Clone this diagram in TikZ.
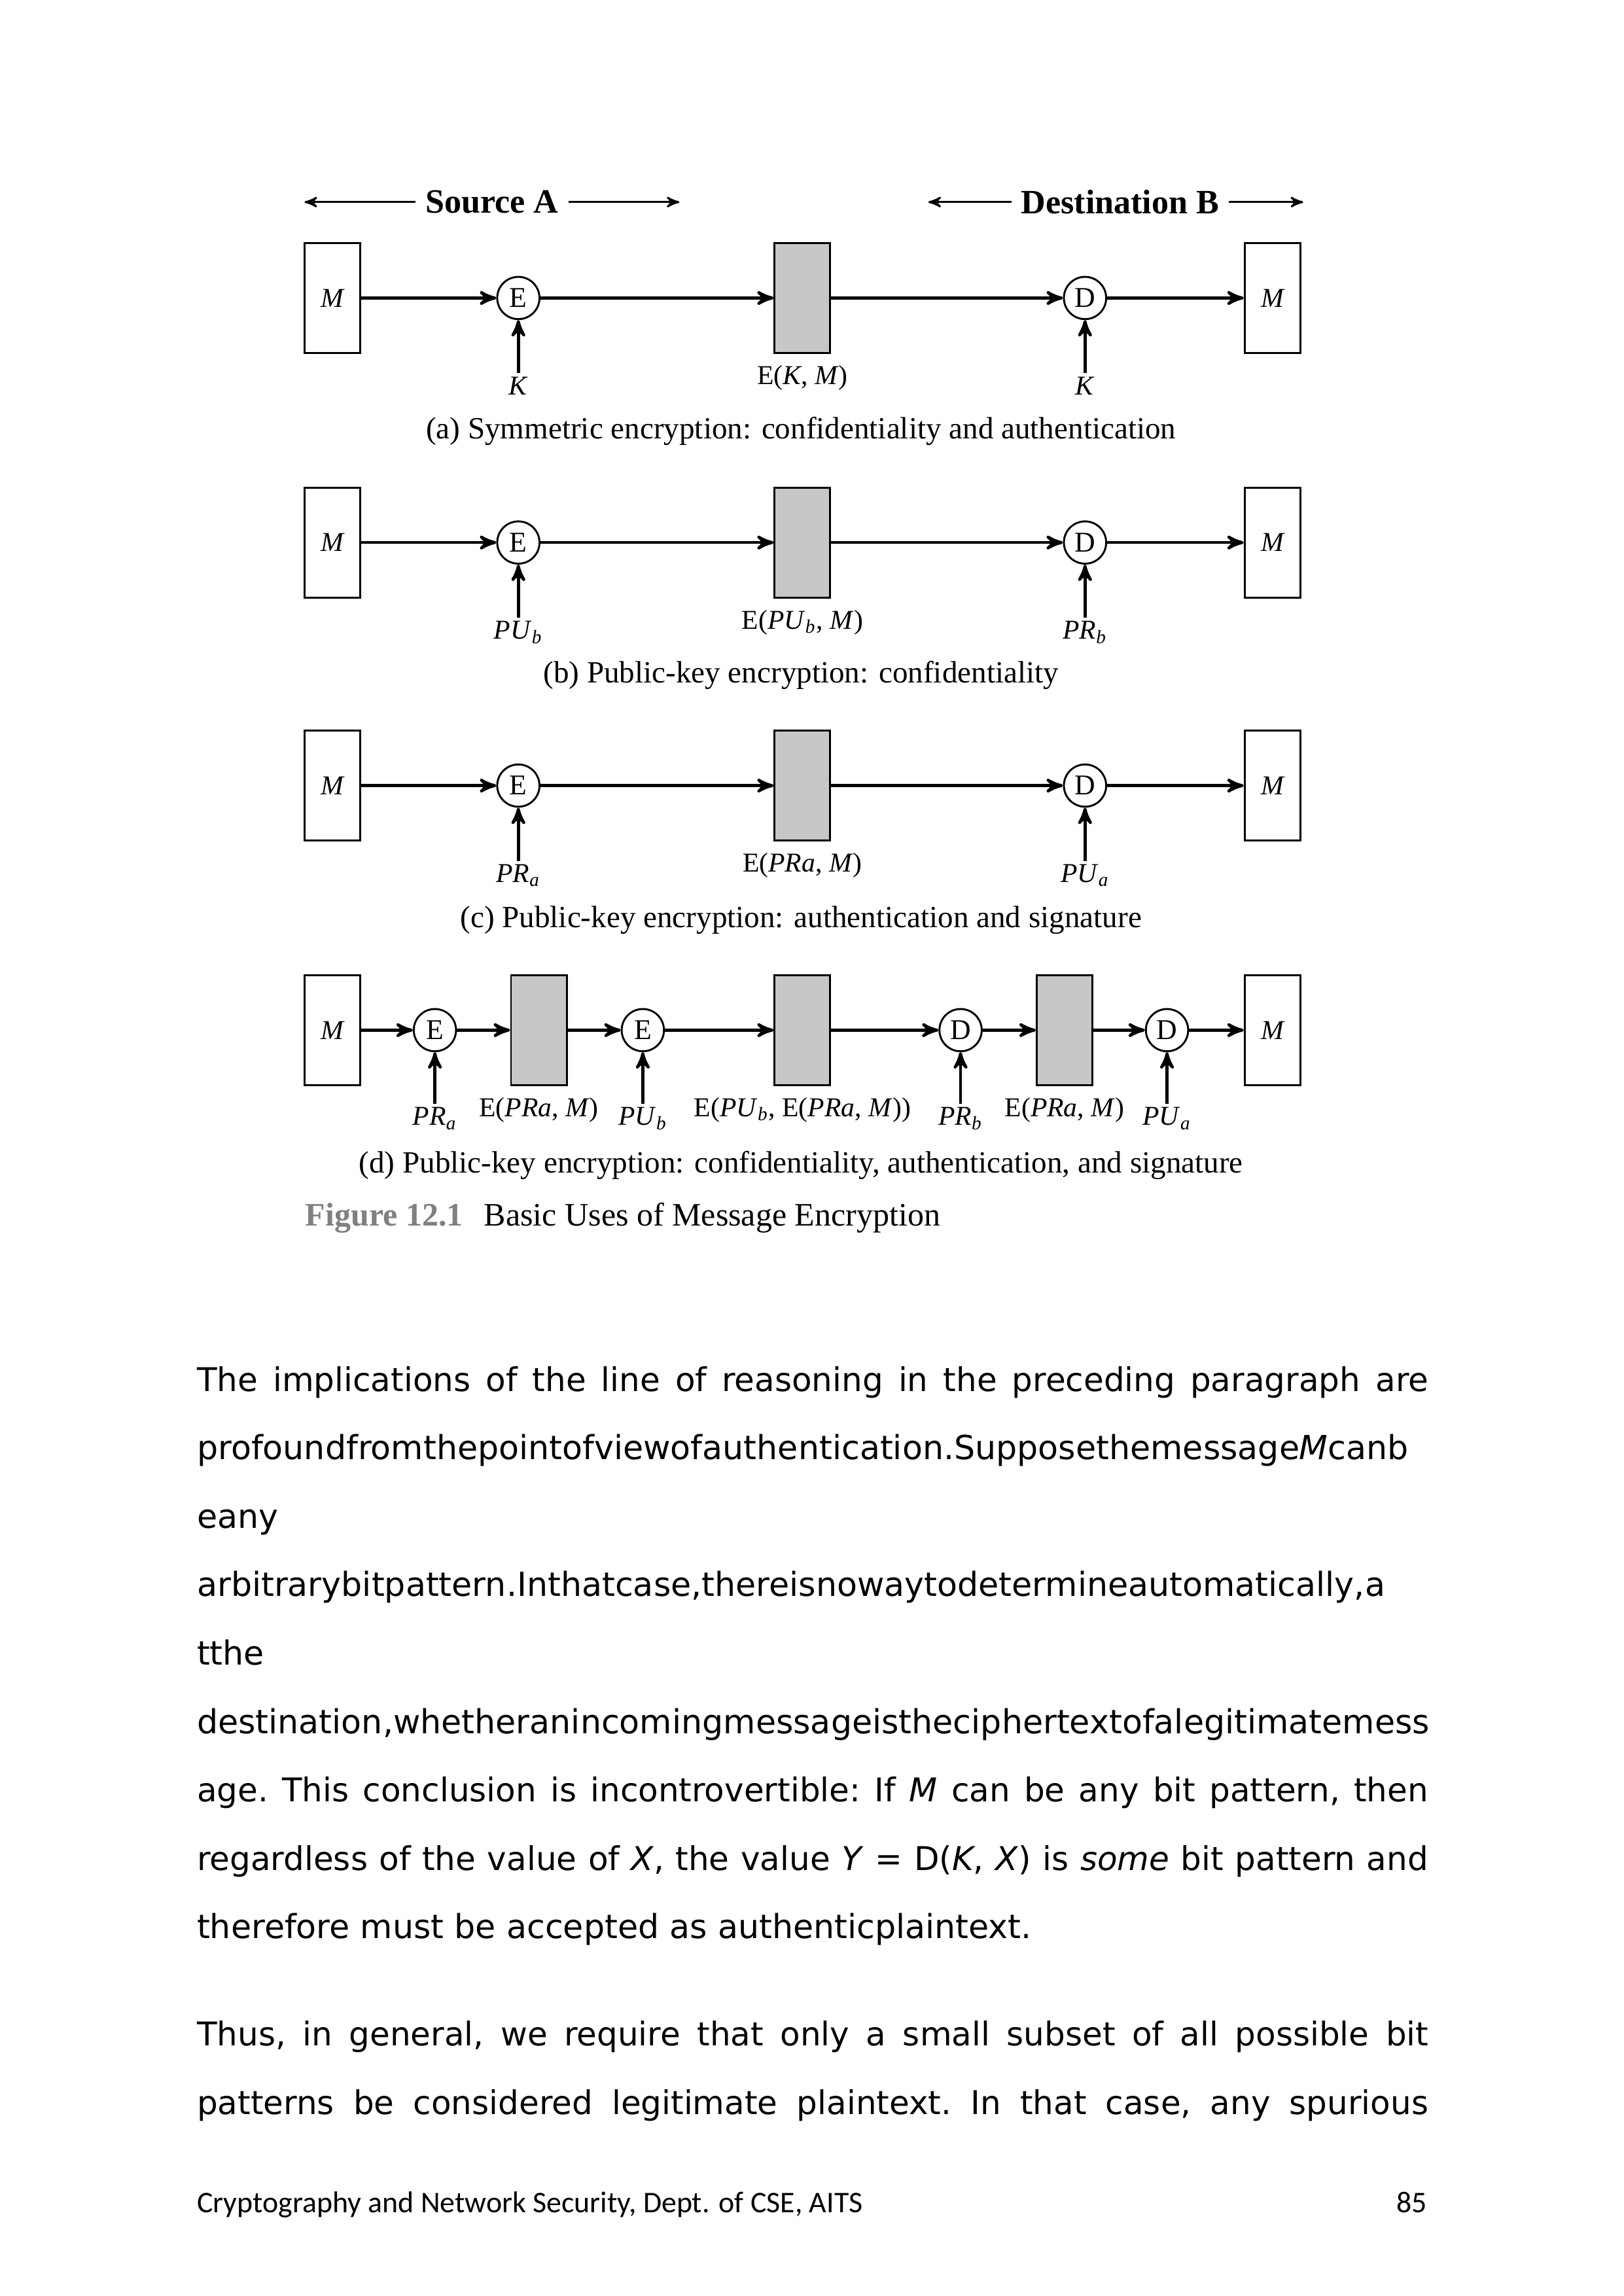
\documentclass[tikz,border=0pt]{standalone}
\usepackage{fontspec}
\setmainfont{Liberation Serif}
\newfontfamily\bodyfont{DejaVu Sans}
\newfontfamily\footfont{Carlito}
\usetikzlibrary{arrows,positioning}

\newcommand{\ky}[2]{\textit{#1}\textsubscript{\textit{#2}}}
\newcommand{\jline}[1]{\makebox[451.4pt][s]{#1}}

\begin{document}
\begin{tikzpicture}[x=0.53677pt,y=-0.53677pt,>=stealth',semithick]
    \tikzstyle{msgbox}=[draw,fill=white,line width=0.7pt,minimum width=20.4pt,minimum height=40.3pt,inner sep=0pt,font=\fontsize{10}{12}\selectfont\itshape]
    \tikzstyle{cipher}=[msgbox,fill=black!22]
    \tikzstyle{op}=[circle,draw,fill=white,line width=0.7pt,minimum size=15.5pt,inner sep=0pt,font=\fontsize{10.5}{12}\selectfont]
    \tikzstyle{lbl}=[anchor=base,inner sep=1pt,font=\fontsize{10}{12}\selectfont]
    \tikzstyle{subcap}=[anchor=base,inner sep=0pt,font=\fontsize{11.3}{13}\selectfont]
    \tikzstyle{flow}=[->,line width=1.1pt]
    \tikzstyle{hdr}=[->,line width=0.7pt]
    \tikzstyle{body}=[anchor=base west,inner sep=0pt,font=\bodyfont\fontsize{12}{14}\selectfont\frenchspacing]
    \tikzstyle{bodywide}=[body,font=\bodyfont\fontsize{12.15}{14}\selectfont\frenchspacing]

    \useasboundingbox (0,0) rectangle (1109,1568);
    \fill[white] (0,0) rectangle (1109,1568);

    % header
    \node[font=\fontsize{12.5}{14}\selectfont\bfseries] (srcA) at (336,138) {Source A};
    \node[font=\fontsize{12.5}{14}\selectfont\bfseries] (dstB) at (765,138) {Destination B};
    \coordinate (srcL) at (208,138);
    \coordinate (srcR) at (464,138);
    \coordinate (dstL) at (634,138);
    \coordinate (dstR) at (890,138);
    \draw[hdr] (srcA) -- (srcL);
    \draw[hdr] (srcA) -- (srcR);
    \draw[hdr] (dstB) -- (dstL);
    \draw[hdr] (dstB) -- (dstR);

    % (a) symmetric
    \node[msgbox] (Mina)  at (227,203.5) {M};
    \node[op]     (Ea)    at (354,203.5) {E};
    \node[cipher] (Ca)    at (548,203.5) {};
    \node[op]     (Da)    at (741,203.5) {D};
    \node[msgbox] (Mouta) at (869,203.5) {M};
    \node[lbl] (kEa) at (354,269.5) {\textit{K}};
    \node[lbl] (kDa) at (741,269.5) {\textit{K}};
    \node[lbl] (cta) at (548,262.5) {E(\textit{K}, \textit{M})};
    \node[subcap] (capa) at (547,299.5) {(a) Symmetric encryption: confidentiality and authentication};
    \path[flow]
    (Mina) edge (Ea)
    (Ea) edge (Ca)
    (Ca) edge (Da)
    (Da) edge (Mouta)
    (kEa) edge (Ea)
    (kDa) edge (Da);

    % (b) public-key, confidentiality
    \node[msgbox] (Minb)  at (227,370.5) {M};
    \node[op]     (Eb)    at (354,370.5) {E};
    \node[cipher] (Cb)    at (548,370.5) {};
    \node[op]     (Db)    at (741,370.5) {D};
    \node[msgbox] (Moutb) at (869,370.5) {M};
    \node[lbl] (kEb) at (354,436.5) {\ky{PU}{b}};
    \node[lbl] (kDb) at (741,436.5) {\ky{PR}{b}};
    \node[lbl] (ctb) at (548,429.5) {E(\ky{PU}{b}, \textit{M})};
    \node[subcap] (capb) at (547,466.5) {(b) Public-key encryption: confidentiality};
    \path[flow]
    (Minb) edge (Eb)
    (Eb) edge (Cb)
    (Cb) edge (Db)
    (Db) edge (Moutb)
    (kEb) edge (Eb)
    (kDb) edge (Db);

    % (c) public-key, authentication
    \node[msgbox] (Minc)  at (227,536.5) {M};
    \node[op]     (Ec)    at (354,536.5) {E};
    \node[cipher] (Cc)    at (548,536.5) {};
    \node[op]     (Dc)    at (741,536.5) {D};
    \node[msgbox] (Moutc) at (869,536.5) {M};
    \node[lbl] (kEc) at (354,602.5) {\ky{PR}{a}};
    \node[lbl] (kDc) at (741,602.5) {\ky{PU}{a}};
    \node[lbl] (ctc) at (548,595.5) {E(\textit{PRa}, \textit{M})};
    \node[subcap] (capc) at (547,633.5) {(c) Public-key encryption: authentication and signature};
    \path[flow]
    (Minc) edge (Ec)
    (Ec) edge (Cc)
    (Cc) edge (Dc)
    (Dc) edge (Moutc)
    (kEc) edge (Ec)
    (kDc) edge (Dc);

    % (d) both
    \node[msgbox] (Mind)  at (227,703.5) {M};
    \node[op]     (Ed1)   at (297,703.5) {E};
    \node[cipher] (Cd1)   at (368,703.5) {};
    \node[op]     (Ed2)   at (439,703.5) {E};
    \node[cipher] (Cd2)   at (548,703.5) {};
    \node[op]     (Dd1)   at (656,703.5) {D};
    \node[cipher] (Cd3)   at (727,703.5) {};
    \node[op]     (Dd2)   at (797,703.5) {D};
    \node[msgbox] (Moutd) at (869,703.5) {M};
    \node[lbl] (kEd1) at (297,768.5) {\ky{PR}{a}};
    \node[lbl] (kEd2) at (439,768.5) {\ky{PU}{b}};
    \node[lbl] (kDd1) at (656,768.5) {\ky{PR}{b}};
    \node[lbl] (kDd2) at (797,768.5) {\ky{PU}{a}};
    \node[lbl] (ctd1) at (368,762.5) {E(\textit{PRa}, \textit{M})};
    \node[lbl] (ctd2) at (548,762.5) {E(\ky{PU}{b}, E(\textit{PRa}, \textit{M}))};
    \node[lbl] (ctd3) at (727,762.5) {E(\textit{PRa}, \textit{M})};
    \node[subcap] (capd) at (547,801) {(d) Public-key encryption: confidentiality, authentication, and signature};
    \path[flow]
    (Mind) edge (Ed1)
    (Ed1) edge (Cd1)
    (Cd1) edge (Ed2)
    (Ed2) edge (Cd2)
    (Cd2) edge (Dd1)
    (Dd1) edge (Cd3)
    (Cd3) edge (Dd2)
    (Dd2) edge (Moutd)
    (kEd1) edge (Ed1)
    (kEd2) edge (Ed2)
    (kDd1) edge (Dd1)
    (kDd2) edge (Dd2);

    % figure caption
    \node[anchor=base west,inner sep=0pt,text=black!50,font=\fontsize{12}{14}\selectfont\bfseries] (fignum) at (208,837) {Figure 12.1};
    \node[anchor=base west,inner sep=0pt,font=\fontsize{12}{14}\selectfont] (figttl) at (330,837) {Basic Uses of Message Encryption};

    % running text
    \node[body]     (ln1)  at (134,950)    {\jline{The implications of the line of reasoning in the preceding paragraph are}};
    \node[bodywide] (ln2)  at (134,996.75) {profoundfromthepointofviewofauthentication.Supposethemessage\textit{M}canb};
    \node[bodywide] (ln3)  at (134,1043.5) {eany};
    \node[bodywide] (ln4)  at (134,1090.25){arbitrarybitpattern.Inthatcase,thereisnowaytodetermineautomatically,a};
    \node[bodywide] (ln5)  at (134,1137)   {tthe};
    \node[bodywide] (ln6)  at (134,1183.75){destination,whetheranincomingmessageistheciphertextofalegitimatemess};
    \node[body]     (ln7)  at (134,1230.5) {\jline{age. This conclusion is incontrovertible: If \textit{M} can be any bit pattern, then}};
    \node[body]     (ln8)  at (134,1277.25){\jline{regardless of the value of \textit{X}, the value \textit{Y} = D(\textit{K}, \textit{X}) is \textit{some} bit pattern and}};
    \node[bodywide] (ln9)  at (134,1324)   {therefore must be accepted as authenticplaintext.};
    \node[body]     (ln10) at (134,1397)   {\jline{Thus, in general, we require that only a small subset of all possible bit}};
    \node[body]     (ln11) at (134,1444)   {\jline{patterns be considered legitimate plaintext. In that case, any spurious}};

    % footer
    \node[anchor=base west,inner sep=0pt,font=\footfont\fontsize{11}{13}\selectfont] (foot) at (134,1511) {Cryptography and Network Security, Dept. of CSE, AITS};
    \node[anchor=base east,inner sep=0pt,font=\footfont\fontsize{11}{13}\selectfont] (pgno) at (975,1511) {85};
\end{tikzpicture}
\end{document}
